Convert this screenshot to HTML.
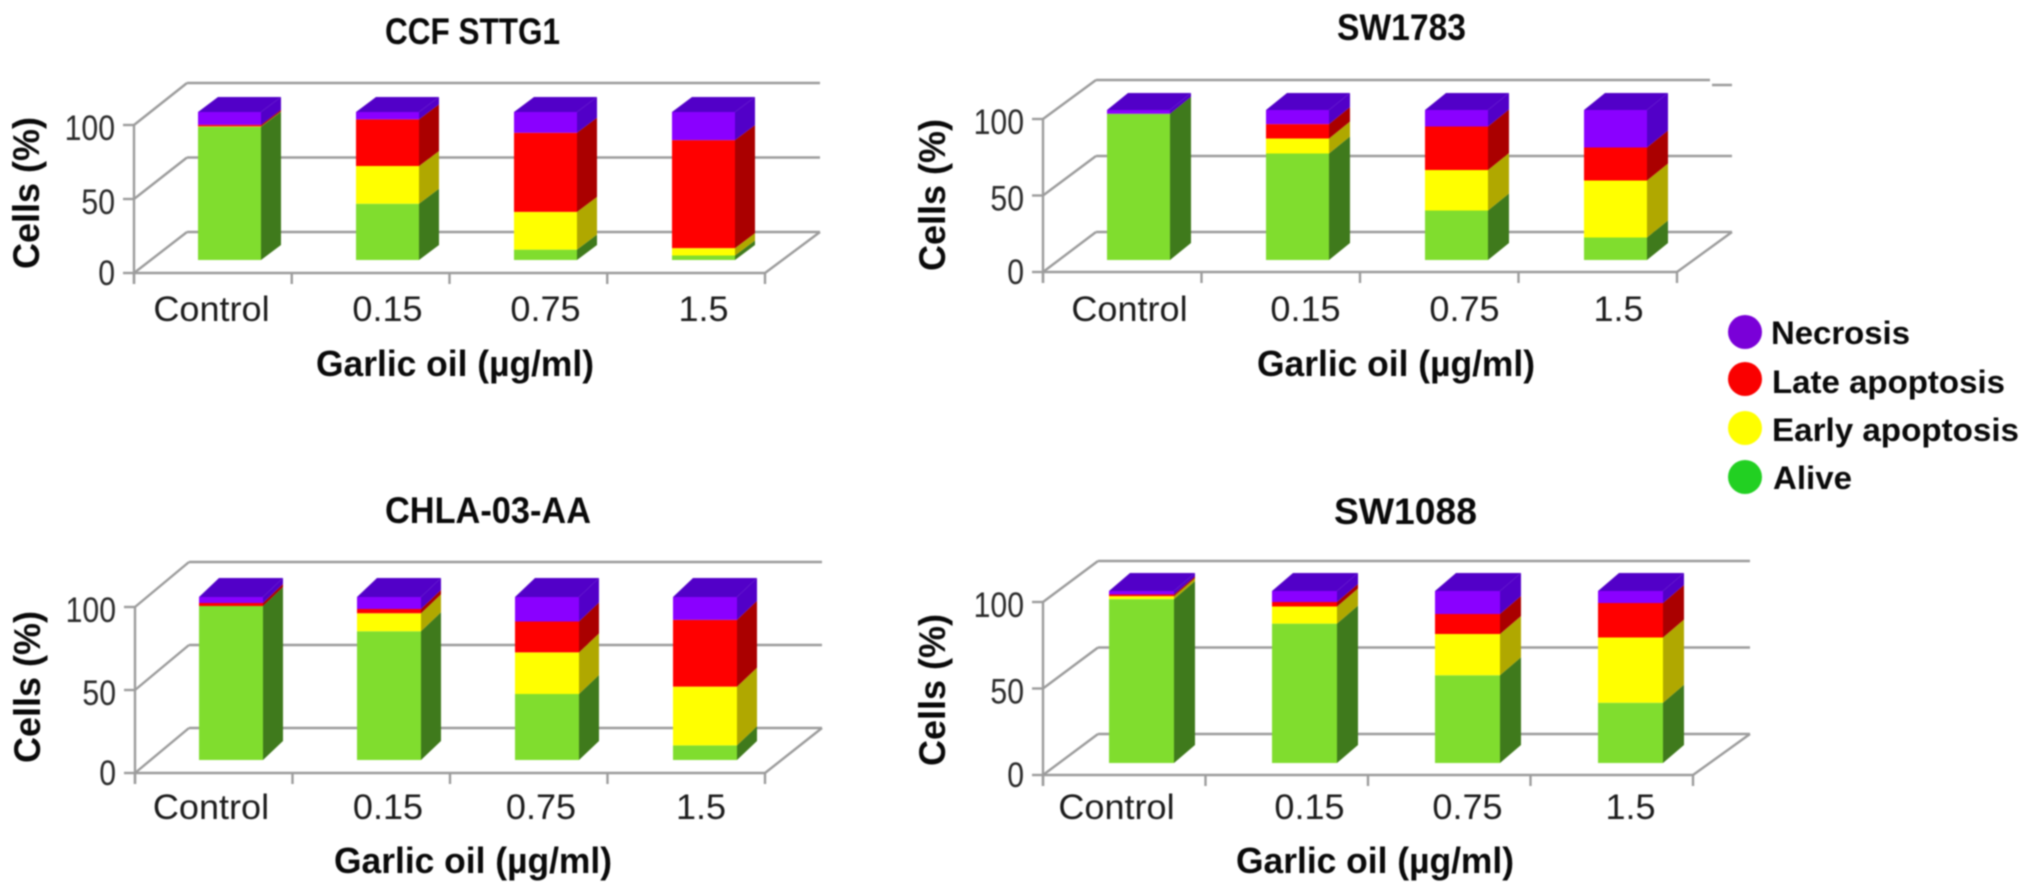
<!DOCTYPE html>
<html lang="en">
<head>
<meta charset="utf-8">
<title>Garlic oil apoptosis charts</title>
<style>
html,body{margin:0;padding:0;background:#fff;width:2031px;height:894px;overflow:hidden}
svg{display:block;filter:blur(0.7px)}
text{font-family:"Liberation Sans",sans-serif;fill:#111}
.tick{font-size:35px;fill:#2a2a2a}
.xl{font-size:35px;fill:#1c1c1c}
.bold{font-weight:bold;fill:#0a0a0a}
</style>
</head>
<body>
<svg id="figure" xmlns="http://www.w3.org/2000/svg" width="2031" height="894" viewBox="0 0 2031 894">
  <rect width="2031" height="894" fill="#fff"/>
  <g id="panels"></g>
  <g>
    <g>
      <circle cx="1745" cy="332" r="17" fill="#7a00d8"/>
      <text class="bold" x="1771" y="344" font-size="32" textLength="139" lengthAdjust="spacingAndGlyphs">Necrosis</text>
    </g>
    <g>
      <circle cx="1745" cy="379" r="17" fill="#fa0000"/>
      <text class="bold" x="1772" y="393" font-size="32" textLength="233" lengthAdjust="spacingAndGlyphs">Late apoptosis</text>
    </g>
    <g>
      <circle cx="1745" cy="428" r="17" fill="#ffff00"/>
      <text class="bold" x="1772" y="441" font-size="32" textLength="247" lengthAdjust="spacingAndGlyphs">Early apoptosis</text>
    </g>
    <g>
      <circle cx="1745" cy="477" r="17" fill="#22d022"/>
      <text class="bold" x="1773" y="489" font-size="32" textLength="79" lengthAdjust="spacingAndGlyphs">Alive</text>
    </g>
  </g>
</svg>
<script>
// Chart data (percent of cells)
const categories = ["Control", "0.15", "0.75", "1.5"];
const yTickValues = [0, 50, 100];
const xAxisTitle = "Garlic oil (µg/ml)";
const yAxisTitle = "Cells (%)";

const ccfAlive    = [90, 38, 7, 3];
const ccfEarly    = [0.3, 25.5, 25.5, 5];
const ccfLate     = [1, 31.5, 53.5, 73];
const ccfNecrosis = [8.7, 5, 14, 19];

const swAlive    = [97.5, 71, 33, 15];
const swEarly    = [0, 10, 27, 38];
const swLate     = [0, 9.6, 29, 22];
const swNecrosis = [2.5, 9.4, 11, 25];

const chlaAlive    = [94.5, 79, 40.5, 9];
const chlaEarly    = [0, 11, 25.5, 36];
const chlaLate     = [1.8, 2.6, 19, 41];
const chlaNecrosis = [3.7, 7.4, 15, 14];

const sw88Alive    = [95.3, 81, 51, 35];
const sw88Early    = [1.7, 10, 24, 38];
const sw88Late     = [1, 2.6, 11.6, 20];
const sw88Necrosis = [2, 6.4, 13.4, 7];

// Series appearance
const seriesStyles = {
  alive:    { front: "#80dd2e", side: "#3f7a1c" },
  early:    { front: "#ffff00", side: "#b0a800" },
  late:     { front: "#ff0000", side: "#aa0000" },
  necrosis: { front: "#8a00ff", side: "#5200c8" }
};

// Panel layout
const panels = [
  { key:"ccf-sttg1", title:"CCF STTG1", titleX:385, titleY:44, titleW:175,
    alive:ccfAlive, early:ccfEarly, late:ccfLate, necrosis:ccfNecrosis,
    axisX:134, axisRight:765, backX:187, backRight:820, backTopEnd:820,
    tick100:125, tick50:198, tick0:273, backTop:83, backMid:158, backBot:232,
    bar0:198, barStep:158, barW:63, dx:20, dy:15, barBottom:260, barH:148,
    labelShift:[-18,0,0,0], xLabelY:321, xTitleX:455, xTitleY:376, yTitleX:39, yTitleY:193 },
  { key:"sw1783", title:"SW1783", titleX:1337, titleY:40, titleW:129,
    alive:swAlive, early:swEarly, late:swLate, necrosis:swNecrosis,
    axisX:1043, axisRight:1677, backX:1096, backRight:1732, backTopEnd:1710, stub:true,
    tick100:119, tick50:195, tick0:272, backTop:80, backMid:156, backBot:232,
    bar0:1107, barStep:159, barW:63, dx:21, dy:17, barBottom:260, barH:150,
    labelShift:[-9,8,8,3], xLabelY:321, xTitleX:1396, xTitleY:376, yTitleX:945, yTitleY:195 },
  { key:"chla-03-aa", title:"CHLA-03-AA", titleX:385, titleY:523, titleW:206,
    alive:chlaAlive, early:chlaEarly, late:chlaLate, necrosis:chlaNecrosis,
    axisX:135, axisRight:765, backX:189, backRight:822, backTopEnd:822,
    tick100:607, tick50:687, tick0:773, backTop:562, backMid:646, backBot:728,
    bar0:199, barStep:158, barW:64, dx:20, dy:19, barBottom:760, barH:163,
    labelShift:[-20,-1,-6,-4], xLabelY:819, xTitleX:473, xTitleY:873, yTitleX:40, yTitleY:687 },
  { key:"sw1088", title:"SW1088", titleX:1334, titleY:524, titleW:143,
    alive:sw88Alive, early:sw88Early, late:sw88Late, necrosis:sw88Necrosis,
    axisX:1043, axisRight:1693, backX:1098, backRight:1750, backTopEnd:1750,
    tick100:602, tick50:688, tick0:775, backTop:561, backMid:648, backBot:734,
    bar0:1109, barStep:163, barW:65, dx:21, dy:18, barBottom:763, barH:172,
    labelShift:[-25,5,0,0], xLabelY:819, xTitleX:1375, xTitleY:873, yTitleX:945, yTitleY:690 }
];

const SVGNS = "http://www.w3.org/2000/svg";
const GRID = "#9c9c9c";
const root = document.getElementById("panels");

function make(parent, tag, attrs, txt) {
  const el = document.createElementNS(SVGNS, tag);
  for (const k in attrs) el.setAttribute(k, attrs[k]);
  if (txt !== undefined) el.textContent = txt;
  parent.appendChild(el);
  return el;
}

function gridLine(parent, name, x1, y1, x2, y2) {
  const el = make(parent, "line", { x1, y1, x2, y2, stroke: GRID, "stroke-width": 2.4 });
  
  
}

function poly(parent, name, pts, fill) {
  const el = make(parent, "polygon", { points: pts.map(p => p.join(",")).join(" "), fill: fill });
  
  
}

panels.forEach(function (p) {
  const g = make(root, "g", {});
  
  

  // axis functions
  const xBar = i => p.bar0 + i * p.barStep;
  const yBar = v => p.barBottom - (v / 100) * p.barH;
  const yTick = v => p.tick0 + (p.tick100 - p.tick0) * (v / 100);
  const yBack = v => p.backBot + (p.backTop - p.backBot) * (v / 100);
  const xTick = i => p.axisX + (p.axisRight - p.axisX) * i / categories.length;

  const title = make(g, "text", { x: p.titleX, y: p.titleY, class: "bold", "font-size": 37, textLength: p.titleW, lengthAdjust: "spacingAndGlyphs" }, p.title);
  
  

  // back wall gridlines, wall diagonals
  yTickValues.forEach(function (v) {
    const end = (v === 100) ? p.backTopEnd : p.backRight;
    gridLine(g, 'gridline-back-' + v, p.backX, yBack(v), end, yBack(v));
    gridLine(g, 'gridline-side-' + v, p.axisX, yTick(v), p.backX, yBack(v));
    gridLine(g, 'y-tick-' + v, p.axisX - 11, yTick(v), p.axisX, yTick(v));
    const lab = make(g, "text", { x: p.axisX - 19, y: yTick(v) + (v === 0 ? 12 : 15), class: "tick", "text-anchor": "end", textLength: String(v).length * 16.8, lengthAdjust: "spacingAndGlyphs" }, String(v));
    
    
  });
  if (p.stub) gridLine(g, 'gridline-back-stub', p.backTopEnd + 2, p.backTop + 5, p.backRight, p.backTop + 5);

  // y axis, floor
  gridLine(g, 'y-axis-line', p.axisX, yTick(100), p.axisX, yTick(0) + 11);
  gridLine(g, 'floor-right-edge', p.axisRight, yTick(0), p.backRight, yBack(0));

  // stacked 3D bars
  categories.forEach(function (cat, i) {
    const bar = make(g, "g", {});
    
    
    const x0 = xBar(i), x1 = x0 + p.barW, dx = p.dx, dy = p.dy;
    let base = 0;
    ["alive", "early", "late", "necrosis"].forEach(function (s) {
      const v = p[s][i];
      const yb = yBar(base), yt = yBar(base + v);
      base += v;
      if (v <= 0) return;
      poly(bar, 'bar-side-' + s, [[x1, yb], [x1 + dx, yb - dy], [x1 + dx, yt - dy], [x1, yt]], seriesStyles[s].side);
      poly(bar, 'bar-front-' + s, [[x0, yb], [x1, yb], [x1, yt], [x0, yt]], seriesStyles[s].front);
    });
    const yTop = yBar(base);
    poly(bar, 'bar-top-necrosis', [[x0, yTop], [x1, yTop], [x1 + dx, yTop - dy], [x0 + dx, yTop - dy]], seriesStyles.necrosis.side);
  });

  // front axis on top
  gridLine(g, 'x-axis-line', p.axisX, yTick(0), p.axisRight, yTick(0));
  for (let i = 0; i <= categories.length; i++) {
    gridLine(g, 'x-tick-' + i, xTick(i), yTick(0), xTick(i), yTick(0) + 11);
  }

  // category labels
  categories.forEach(function (cat, i) {
    const cx = xBar(i) + p.barW / 2 + p.labelShift[i];
    const lab = make(g, "text", { class: "xl", "text-anchor": "middle", transform: "translate(" + cx + "," + p.xLabelY + ") scale(1.03,1)" }, cat);
    
    
  });

  // axis titles
  const xt = make(g, "text", { x: p.xTitleX, y: p.xTitleY, class: "bold", "font-size": 36, "text-anchor": "middle", textLength: 278, lengthAdjust: "spacingAndGlyphs" }, xAxisTitle);
  
  
  const yt = make(g, "text", { class: "bold", "font-size": 37, "text-anchor": "middle", transform: "translate(" + p.yTitleX + "," + p.yTitleY + ") rotate(-90)", textLength: 152, lengthAdjust: "spacingAndGlyphs" }, yAxisTitle);
  
  
});
</script>
</body>
</html>
